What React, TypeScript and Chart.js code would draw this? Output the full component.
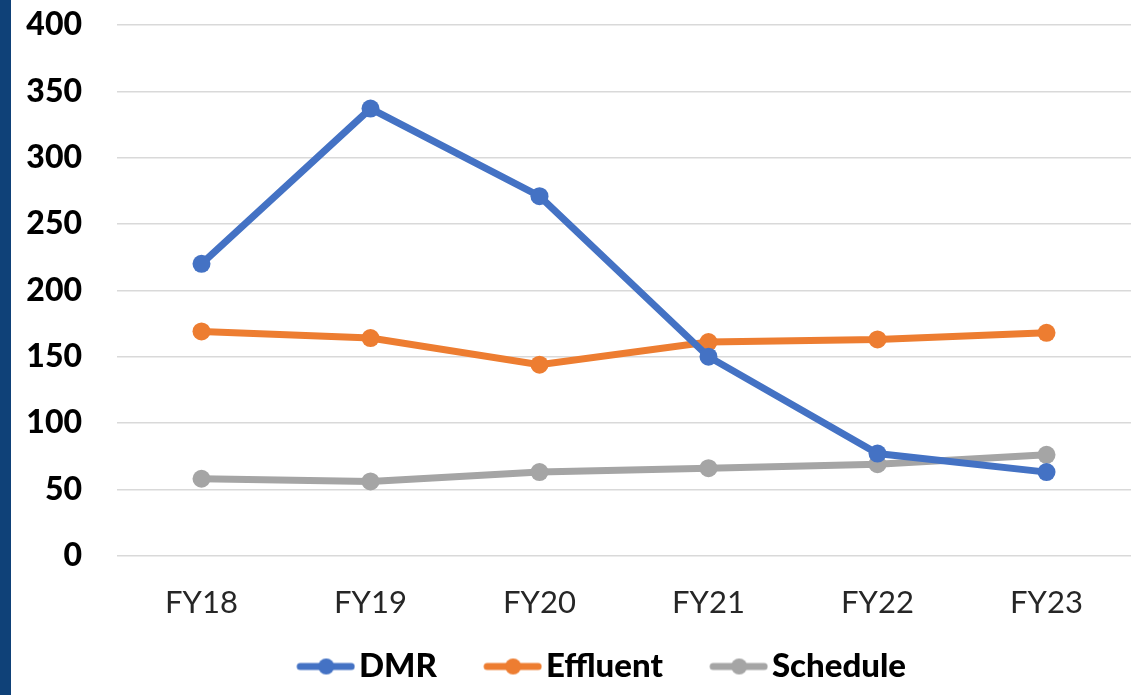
import React, { useEffect, useRef } from "react";
import { Chart, registerables } from "chart.js";

Chart.register(...registerables);

const categories = ["FY18", "FY19", "FY20", "FY21", "FY22", "FY23"];
const dmrValues = [220, 337, 271, 150, 77, 63];
const effluentValues = [169, 164, 144, 161, 163, 168];
const scheduleValues = [58, 56, 63, 66, 69, 76];
const yTicks = [0, 50, 100, 150, 200, 250, 300, 350, 400];

const BLUE = "#4472C4";
const ORANGE = "#ED7D31";
const GRAY = "#A5A5A5";

function makeMarker(color: string): HTMLCanvasElement {
  const c = document.createElement("canvas");
  c.width = 104;
  c.height = 20;
  const ctx = c.getContext("2d")!;
  ctx.strokeStyle = color;
  ctx.lineWidth = 7;
  ctx.lineCap = "round";
  ctx.beginPath();
  ctx.moveTo(49, 10);
  ctx.lineTo(100, 10);
  ctx.stroke();
  ctx.fillStyle = color;
  ctx.beginPath();
  ctx.arc(75, 10, 8, 0, Math.PI * 2);
  ctx.fill();
  return c;
}

const legendShift = {
  id: "legendShift",
  afterLayout(chart: any) {
    const lg = chart.legend;
    if (lg) {
      lg.left += 14;
      lg.right += 14;
      lg.top -= 14;
      lg.bottom -= 14;
    }
  },
};

export default function App() {
  const ref = useRef<HTMLCanvasElement | null>(null);
  useEffect(() => {
    document.body.style.margin = "0";
    const markers = [makeMarker(BLUE), makeMarker(ORANGE), makeMarker(GRAY)];
    const mk = (label: string, data: number[], color: string) => ({
      label,
      data,
      borderColor: color,
      backgroundColor: color,
      borderWidth: 7,
      pointRadius: 9,
      pointBackgroundColor: color,
      pointBorderWidth: 0,
      tension: 0,
    });
    const chart = new Chart(ref.current!, {
      type: "line",
      data: {
        labels: categories,
        datasets: [
          mk("DMR", dmrValues, BLUE),
          mk("Effluent", effluentValues, ORANGE),
          mk("Schedule", scheduleValues, GRAY),
        ],
      },
      plugins: [legendShift],
      options: {
        animation: false,
        responsive: false,
        layout: { padding: { top: 25, right: 10, bottom: -12, left: 0 } },
        scales: {
          x: {
            offset: true,
            grid: { display: false, drawTicks: false },
            border: { display: false },
            ticks: {
              color: "#262626",
              padding: 27,
              font: { family: "Lato", size: 31, weight: "normal", lineHeight: 1.3 },
            },
          },
          y: {
            min: 0,
            max: 400,
            afterFit: (s: any) => {
              s.width = 106;
            },
            afterBuildTicks: (s: any) => {
              s.ticks = yTicks.map((v) => ({ value: v }));
            },
            grid: {
              color: "#D9D9D9",
              lineWidth: 1.5,
              drawTicks: true,
              tickLength: 30,
              tickColor: "rgba(0,0,0,0)",
            },
            border: { display: false },
            ticks: {
              color: "#000000",
              padding: 5,
              font: { family: "Lato", size: 32, weight: "900" },
            },
          },
        },
        plugins: {
          tooltip: { enabled: false },
          legend: {
            position: "bottom",
            labels: {
              usePointStyle: true,
              pointStyleWidth: 78.5,
              padding: 14,
              color: "#000000",
              font: { family: "Lato", size: 33, weight: "900" },
              generateLabels: (ch: any) =>
                ch.data.datasets.map((d: any, i: number) => ({
                  text: d.label,
                  pointStyle: markers[i],
                  fillStyle: d.borderColor,
                  strokeStyle: d.borderColor,
                  lineWidth: 0,
                  hidden: false,
                  datasetIndex: i,
                  fontColor: "#000000",
                })),
            },
          },
        },
      },
    });
    return () => chart.destroy();
  }, []);
  return (
    <div style={{ display: "flex", width: 1141, height: 695, background: "#FFFFFF" }}>
      <div style={{ width: 11, height: 695, background: "#0F4178" }} />
      <canvas ref={ref} width={1130} height={695} style={{ display: "block" }} />
    </div>
  );
}
